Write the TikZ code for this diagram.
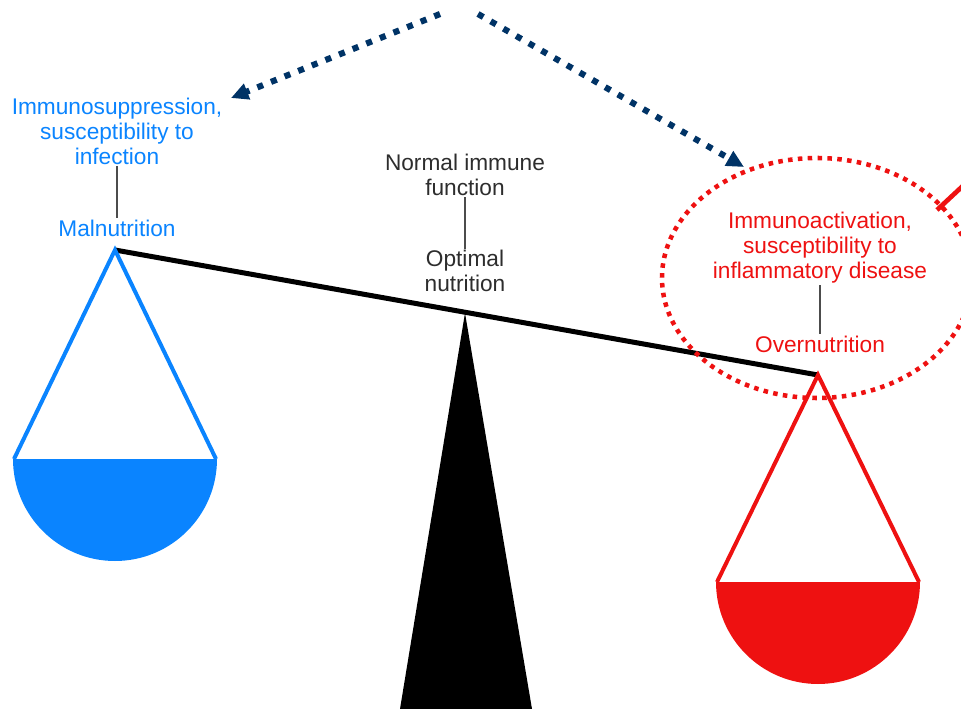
\documentclass[tikz,border=0pt]{standalone}
\usepackage{fontspec}
\setmainfont{Liberation Sans}
\usetikzlibrary{arrows.meta}

\definecolor{malblue}{RGB}{10,132,255}
\definecolor{overred}{RGB}{238,17,17}
\definecolor{navyhint}{RGB}{0,51,102}
\definecolor{midgray}{RGB}{45,45,45}

\tikzset{
  caption/.style={align=center, inner sep=1pt,
    font=\fontsize{17}{18.75}\selectfont},
  tie/.style={draw=black!70, line width=1.3pt},
  pan/.style={line width=3pt, line join=miter},
  hint/.style={navyhint, line width=4.6pt, dash pattern=on 4.6pt off 6.4pt,
    -{Triangle[length=13pt, width=12pt]}},
  ring/.style={overred, line width=3.4pt, dash pattern=on 3.4pt off 4pt},
}

\begin{document}
\begin{tikzpicture}[x=0.75pt, y=0.75pt, yscale=-1]

  \useasboundingbox (0,0) rectangle (961,709);
  \clip (0,0) rectangle (961,709);

  \coordinate (pivot) at (465,313);
  \coordinate (lhook) at (115,250);
  \coordinate (rhook) at (818,375);

  % fulcrum and beam
  \fill (pivot) -- (532,709) -- (400,709) -- cycle;
  \draw[line width=3.75pt] (lhook) -- (rhook);

  % left pan
  \draw[pan, malblue] (14,459) -- (lhook) -- (216,459);
  \fill[malblue] (13,459) arc (180:0:102) -- cycle;

  % right pan
  \draw[pan, overred] (717,582) -- (rhook) -- (919,582);
  \fill[overred] (716,582) arc (180:0:102) -- cycle;

  % labels
  \node[caption, malblue] (lowtext) at (117,131)
    {Immunosuppression,\\susceptibility to\\infection};
  \node[caption, malblue] (low) at (117,228) {Malnutrition};
  \draw[tie] (lowtext.south) -- (low.north);

  \node[caption, midgray] (midtext) at (465,175) {Normal immune\\function};
  \node[caption, midgray] (mid) at (465,271) {Optimal\\nutrition};
  \draw[tie] (midtext.south) -- (mid.north);

  \node[caption, overred] (hightext) at (820,248)
    {Immunoactivation,\\susceptibility to\\inflammatory disease};
  \node[caption, overred] (high) at (820,344) {Overnutrition};
  \draw[tie] (hightext.south) -- (high.north);

  % highlight ring and its pointer
  \draw[ring] (817,278) ellipse [x radius=155, y radius=120];
  \coordinate (ringtop) at (937,210);
  \coordinate (offpage) at (995,156);
  \draw[overred, line width=3.5pt] (ringtop) -- (offpage);

  % dotted arrows
  \coordinate (forkl) at (440,14);
  \coordinate (forkr) at (478,14);
  \coordinate (lowhead) at (231,98);
  \coordinate (highhead) at (744,167);
  \draw[hint] (forkl) -- (lowhead);
  \draw[hint] (forkr) -- (highhead);

\end{tikzpicture}
\end{document}
